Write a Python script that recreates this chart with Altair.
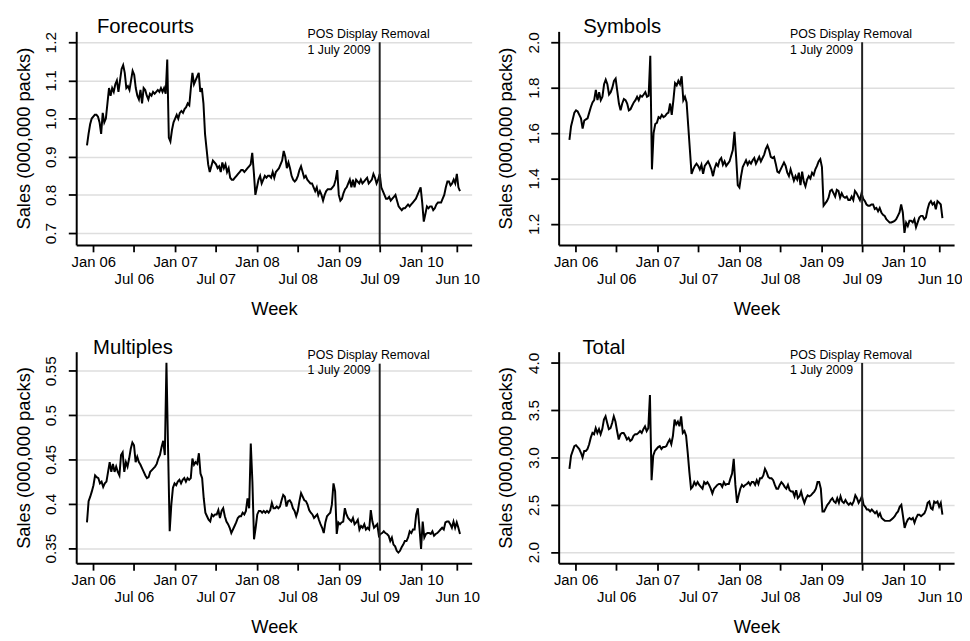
import altair as alt
import pandas as pd

FONT = "Liberation Sans"

# ---------------- data ----------------
start_week = "2005-12-04"
end_week = "2010-06-24"
removal_date = "2009-07-01"
removal_label = "POS Display Removal\n1 July 2009"

names = ["Forecourts", "Symbols", "Multiples", "Total"]

forecourts = [
    0.93, 0.96, 0.985, 1.0, 1.005, 1.01, 1.01, 1.005, 0.99, 0.96,
    1.015, 0.99, 1.0, 1.04, 1.08, 1.06, 1.08, 1.07, 1.09, 1.1,
    1.07, 1.1, 1.13, 1.14, 1.12, 1.08, 1.085, 1.075, 1.1, 1.125,
    1.115, 1.08, 1.06, 1.05, 1.075, 1.04, 1.08, 1.075, 1.06, 1.05,
    1.065, 1.06, 1.07, 1.065, 1.07, 1.075, 1.07, 1.08, 1.07, 1.08,
    1.065, 1.155, 0.95, 0.94, 0.97, 0.99, 1.0, 1.01, 1.0, 1.015,
    1.02, 1.015, 1.025, 1.03, 1.04, 1.035, 1.08, 1.12, 1.09, 1.1,
    1.11, 1.12, 1.07, 1.08, 1.04, 0.96, 0.92, 0.88, 0.86, 0.875,
    0.89, 0.885, 0.88, 0.87, 0.875, 0.86, 0.885, 0.87, 0.88, 0.86,
    0.87, 0.845, 0.84, 0.84, 0.845, 0.85, 0.855, 0.86, 0.865, 0.865,
    0.86, 0.865, 0.87, 0.875, 0.88, 0.91, 0.86, 0.8, 0.82, 0.84,
    0.85, 0.83, 0.84, 0.85, 0.845, 0.85, 0.85, 0.845, 0.86, 0.845,
    0.86, 0.865, 0.87, 0.88, 0.89, 0.915, 0.9, 0.87, 0.885, 0.87,
    0.85, 0.84, 0.835, 0.84, 0.85, 0.865, 0.875, 0.86, 0.845, 0.85,
    0.84, 0.835, 0.83, 0.83, 0.82, 0.81, 0.82, 0.8, 0.81, 0.8,
    0.785, 0.8, 0.81, 0.815, 0.815, 0.815, 0.82, 0.825, 0.84, 0.865,
    0.8, 0.785, 0.79, 0.805, 0.815, 0.82, 0.83, 0.84, 0.82, 0.84,
    0.82, 0.84, 0.835, 0.83, 0.84, 0.83, 0.835, 0.84, 0.845, 0.83,
    0.835, 0.84, 0.855, 0.845, 0.83, 0.84, 0.855, 0.82, 0.81, 0.8,
    0.79, 0.79, 0.795, 0.785, 0.79, 0.795, 0.8, 0.785, 0.77, 0.765,
    0.76, 0.765, 0.765, 0.77, 0.775, 0.77, 0.775, 0.78, 0.785, 0.79,
    0.8, 0.81, 0.82, 0.78, 0.73, 0.75, 0.77, 0.765, 0.77, 0.77,
    0.76, 0.765, 0.775, 0.78, 0.78, 0.78, 0.79, 0.8, 0.82, 0.835,
    0.835, 0.825, 0.83, 0.84, 0.83, 0.855, 0.82, 0.81,
]

symbols = [
    1.57, 1.63, 1.66, 1.69, 1.70, 1.695, 1.68, 1.665, 1.62, 1.655,
    1.66, 1.665, 1.69, 1.715, 1.735, 1.745, 1.79, 1.745, 1.78, 1.745,
    1.76, 1.815, 1.835, 1.815, 1.77, 1.78, 1.80, 1.83, 1.84, 1.785,
    1.73, 1.70, 1.73, 1.75, 1.745, 1.73, 1.70, 1.705, 1.72, 1.735,
    1.745, 1.76, 1.745, 1.765, 1.76, 1.77, 1.78, 1.76, 1.765, 1.94,
    1.44, 1.60, 1.64, 1.645, 1.67, 1.665, 1.68, 1.67, 1.675, 1.685,
    1.69, 1.73, 1.68, 1.745, 1.82, 1.81, 1.83, 1.815, 1.85, 1.745,
    1.76, 1.735, 1.63, 1.525, 1.42, 1.44, 1.455, 1.465, 1.455, 1.44,
    1.46, 1.42, 1.455, 1.465, 1.475, 1.46, 1.44, 1.41, 1.445, 1.465,
    1.455, 1.48, 1.49, 1.46, 1.475, 1.455, 1.465, 1.475, 1.50, 1.525,
    1.605, 1.495, 1.37, 1.36, 1.41, 1.45, 1.465, 1.48, 1.46, 1.475,
    1.465, 1.48, 1.49, 1.465, 1.48, 1.495, 1.475, 1.49, 1.505, 1.53,
    1.545, 1.525, 1.495, 1.49, 1.495, 1.465, 1.43, 1.425, 1.44, 1.455,
    1.47, 1.455, 1.425, 1.41, 1.44, 1.415, 1.39, 1.41, 1.395, 1.425,
    1.37, 1.43, 1.385, 1.365, 1.395, 1.41, 1.40, 1.425, 1.415, 1.44,
    1.455, 1.475, 1.485, 1.45, 1.28, 1.29, 1.30, 1.315, 1.345, 1.35,
    1.335, 1.32, 1.35, 1.345, 1.315, 1.335, 1.32, 1.315, 1.32, 1.305,
    1.305, 1.32, 1.305, 1.345, 1.335, 1.32, 1.305, 1.335, 1.31, 1.30,
    1.285, 1.28, 1.28, 1.285, 1.285, 1.265, 1.27, 1.255, 1.27, 1.25,
    1.24, 1.235, 1.22, 1.213, 1.206, 1.206, 1.209, 1.213, 1.22, 1.235,
    1.25, 1.285, 1.25, 1.16, 1.205, 1.19, 1.213, 1.213, 1.206, 1.22,
    1.185, 1.206, 1.228, 1.235, 1.235, 1.22, 1.228, 1.264, 1.29, 1.30,
    1.285, 1.293, 1.264, 1.30, 1.293, 1.285, 1.225,
]

multiples = [
    0.379, 0.403, 0.408, 0.414, 0.421, 0.432, 0.43, 0.429, 0.423, 0.425,
    0.419, 0.423, 0.425, 0.436, 0.447, 0.436, 0.445, 0.436, 0.442, 0.436,
    0.432, 0.455, 0.458, 0.436, 0.447, 0.442, 0.451, 0.462, 0.469, 0.466,
    0.447, 0.453, 0.447, 0.444, 0.44, 0.436, 0.432, 0.429, 0.43, 0.436,
    0.438, 0.44, 0.442, 0.445, 0.451, 0.455, 0.464, 0.471, 0.455, 0.559,
    0.462, 0.369, 0.399, 0.418, 0.423, 0.421, 0.425, 0.427, 0.423, 0.427,
    0.429, 0.425, 0.429, 0.427, 0.429, 0.451, 0.444, 0.447, 0.445, 0.457,
    0.434, 0.429, 0.406, 0.39, 0.386, 0.382, 0.38, 0.388, 0.386, 0.388,
    0.388, 0.393, 0.384, 0.392, 0.395, 0.386, 0.38, 0.377, 0.373, 0.367,
    0.371, 0.375, 0.379, 0.384, 0.386, 0.386, 0.39, 0.388, 0.392, 0.406,
    0.395, 0.468, 0.425, 0.36, 0.373, 0.388, 0.392, 0.392, 0.39, 0.392,
    0.39, 0.392, 0.39, 0.393, 0.401, 0.395, 0.395, 0.397, 0.395, 0.397,
    0.404, 0.41, 0.408, 0.397, 0.403, 0.404, 0.401, 0.395, 0.392, 0.386,
    0.392, 0.403, 0.412, 0.408, 0.404, 0.403, 0.399, 0.393, 0.39, 0.388,
    0.384, 0.386, 0.388, 0.382, 0.377, 0.373, 0.367, 0.379, 0.386, 0.388,
    0.39, 0.399, 0.423, 0.414, 0.366, 0.379, 0.377, 0.379, 0.38, 0.395,
    0.388, 0.384, 0.382, 0.38, 0.384, 0.377, 0.379, 0.382, 0.371, 0.375,
    0.373, 0.377, 0.371, 0.373, 0.371, 0.393, 0.38, 0.373, 0.375, 0.377,
    0.364, 0.366, 0.367, 0.369, 0.367, 0.366, 0.364, 0.358, 0.362, 0.354,
    0.352, 0.347, 0.345, 0.347, 0.351, 0.354, 0.358, 0.358, 0.362, 0.369,
    0.367, 0.371, 0.371, 0.388, 0.395, 0.373, 0.349, 0.38, 0.362, 0.366,
    0.367, 0.367, 0.366, 0.369, 0.364, 0.366, 0.367, 0.369, 0.371, 0.373,
    0.371, 0.379, 0.38, 0.38, 0.377, 0.373, 0.38, 0.373, 0.379, 0.373, 0.366,
]

total = [
    2.88, 3.02, 3.07, 3.12, 3.13, 3.11, 3.09, 3.05, 3.0, 3.07,
    3.07, 3.09, 3.14, 3.21, 3.26, 3.245, 3.31, 3.26, 3.30, 3.245,
    3.30, 3.40, 3.435, 3.365, 3.30, 3.31, 3.365, 3.435, 3.38, 3.28,
    3.19, 3.245, 3.26, 3.26, 3.23, 3.19, 3.21, 3.175, 3.19, 3.23,
    3.245, 3.245, 3.26, 3.28, 3.26, 3.30, 3.33, 3.28, 3.31, 3.66,
    2.76, 3.02, 3.07, 3.09, 3.11, 3.12, 3.09, 3.11, 3.11, 3.12,
    3.16, 3.19, 3.14, 3.23, 3.40, 3.35, 3.38, 3.33, 3.435, 3.26,
    3.28, 3.23, 3.05, 2.845, 2.67, 2.69, 2.74, 2.71, 2.74, 2.71,
    2.69, 2.67, 2.74, 2.72, 2.74, 2.71, 2.67, 2.62, 2.67, 2.69,
    2.71, 2.72, 2.72, 2.69, 2.74, 2.71, 2.72, 2.72, 2.78, 2.83,
    2.985, 2.71, 2.52, 2.60, 2.67, 2.71, 2.69, 2.71, 2.72, 2.74,
    2.71, 2.74, 2.74, 2.71, 2.76, 2.72, 2.78, 2.78, 2.81, 2.88,
    2.845, 2.795, 2.78, 2.78, 2.76, 2.71, 2.67, 2.67, 2.71, 2.74,
    2.72, 2.69, 2.67, 2.71, 2.655, 2.64, 2.64, 2.59, 2.655, 2.57,
    2.59, 2.64, 2.57, 2.52, 2.57, 2.60, 2.59, 2.60, 2.62, 2.64,
    2.67, 2.74, 2.74, 2.67, 2.43, 2.43, 2.465, 2.50, 2.52, 2.55,
    2.57, 2.535, 2.52, 2.57, 2.52, 2.59, 2.535, 2.52, 2.55, 2.52,
    2.50, 2.52, 2.50, 2.535, 2.60, 2.57, 2.52, 2.55, 2.59, 2.50,
    2.48, 2.45, 2.45, 2.43, 2.45, 2.43, 2.41, 2.43, 2.38, 2.41,
    2.36, 2.345, 2.33, 2.33, 2.33, 2.33, 2.345, 2.36, 2.38, 2.41,
    2.43, 2.48, 2.50, 2.38, 2.255, 2.31, 2.345, 2.36, 2.345, 2.36,
    2.31, 2.36, 2.395, 2.395, 2.38, 2.395, 2.41, 2.45, 2.52, 2.535,
    2.465, 2.45, 2.535, 2.52, 2.535, 2.48, 2.52, 2.395,
]

series = [forecourts, symbols, multiples, total]

y_domains = [[0.669, 1.2285], [1.107, 2.048], [0.333, 0.5715], [1.882, 4.119]]
y_ticks = [
    [0.7, 0.8, 0.9, 1.0, 1.1, 1.2],
    [1.2, 1.4, 1.6, 1.8, 2.0],
    [0.35, 0.4, 0.45, 0.5, 0.55],
    [2.0, 2.5, 3.0, 3.5, 4.0],
]
y_formats = [".1f", ".1f", ".2~f", ".1f"]
line_tops = [1.2, 2.0, 0.558, 4.0]

x_tick_dates = [
    (2006, 1, 1), (2006, 7, 1), (2007, 1, 1), (2007, 7, 1), (2008, 1, 1),
    (2008, 7, 1), (2009, 1, 1), (2009, 7, 1), (2010, 1, 1), (2010, 6, 12),
]
x_domain = [(2005, 10, 17), (2010, 8, 15)]

title_x = [21, 25, 17, 24]
heights = [216, 216, 214, 214]


def dt(t):
    return alt.DateTime(year=t[0], month=t[1], date=t[2])


def panel(i):
    vals = series[i]
    dates = pd.date_range(start_week, end_week, periods=len(vals))
    df = pd.DataFrame({"date": dates, "value": vals})

    xaxis = alt.Axis(
        values=[dt(t) for t in x_tick_dates],
        format="%b %y",
        title="Week",
        labelFontSize=15,
        titleFontSize=18.5,
        grid=False,
        tickSize=7,
        labelPadding={"condition": {"test": "month(datum.value) == 0", "value": 3}, "value": 20},
        titlePadding=13,
        labelOverlap=False,
        labelFlush=False,
    )
    yaxis = alt.Axis(
        values=y_ticks[i],
        format=y_formats[i],
        title="Sales (000,000 packs)",
        labelAngle=270,
        labelAlign="center",
        labelBaseline="bottom",
        labelFontSize=15.5,
        titleFontSize=18.5,
        tickSize=8,
        labelPadding=9.5,
        titlePadding=11,
        grid=True,
        gridColor="#dedede",
        gridWidth=1.5,
        labelOverlap=False,
    )
    xenc = alt.X("date:T", scale=alt.Scale(domain=[dt(x_domain[0]), dt(x_domain[1])]), axis=xaxis)
    yenc = alt.Y("value:Q", scale=alt.Scale(domain=y_domains[i], nice=False, zero=False), axis=yaxis)

    line = alt.Chart(df).mark_line(color="black", strokeWidth=2).encode(x=xenc, y=yenc)

    rule_df = pd.DataFrame({
        "date": [pd.Timestamp(removal_date)],
        "value": [y_domains[i][0]],
        "value2": [line_tops[i]],
    })
    rule = alt.Chart(rule_df).mark_rule(color="#222222", strokeWidth=2).encode(
        x=xenc, y=yenc, y2="value2:Q"
    )

    ann_df = pd.DataFrame({"date": [pd.Timestamp(removal_date)], "label": [removal_label]})
    ann = alt.Chart(ann_df).mark_text(
        align="left", baseline="top", dx=-73, fontSize=12.5, lineHeight=16,
        lineBreak="\n", font=FONT, color="black",
    ).encode(x=xenc, y=alt.value(-3), text="label:N")

    ttl_df = pd.DataFrame({"name": [names[i]]})
    ttl = alt.Chart(ttl_df).mark_text(
        align="left", baseline="middle", fontSize=20.5, font=FONT, color="black"
    ).encode(x=alt.value(title_x[i]), y=alt.value(-4), text="name:N")

    return alt.layer(line, rule, ann, ttl).properties(width=400, height=heights[i])


row1 = alt.hconcat(panel(0), panel(1), spacing=17)
row2 = alt.hconcat(panel(2), panel(3), spacing=17)

chart = (
    alt.vconcat(row1, row2, spacing=20)
    .properties(padding={"left": 6, "top": 6, "right": 0, "bottom": 0}, background="white")
    .configure_view(stroke=None)
    .configure_axis(
        labelFont=FONT,
        titleFont=FONT,
        labelColor="black",
        titleColor="black",
        titleFontWeight="normal",
        domainColor="black",
        tickColor="black",
        domainWidth=2,
        tickWidth=1.8,
    )
)

chart.save("out.html", embed_options={"renderer": "svg", "actions": False})
